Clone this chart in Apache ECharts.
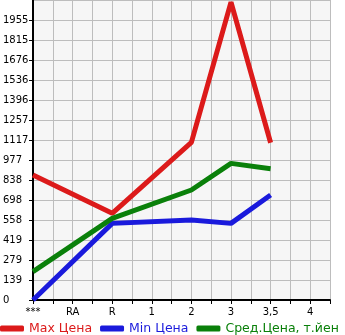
<!DOCTYPE html>
<html><head><meta charset="utf-8">
<script src="https://cdn.jsdelivr.net/npm/echarts@6/dist/echarts.min.js"></script>
<style>html,body{margin:0;padding:0;background:#fff}#c{width:345px;height:335px}</style>
</head><body><div id="c"></div>
<script>
var categories = ['***', 'RA', 'R', '1', '2', '3', '3,5', '4'];
var yTickLabels = ['0', '139', '279', '419', '558', '698', '838', '977', '1117', '1257', '1396', '1536', '1676', '1815', '1955', ''];
var maxPrice = [873, null, 605, null, 1101, 2080, 1098, null];
var minPrice = [0, null, 535, null, 559, 535, 733, null];
var avgPrice = [198, null, 570, null, 768, 954, 917, null];
var seriesNames = ['Max Цена', 'Min Цена', 'Сред.Цена, т.йен'];
var colors = ['#dc1a1a', '#1a1adc', '#0a800a'];
var step = 139.64;

function toPts(arr) {
  var out = [];
  arr.forEach(function (v, i) { if (v !== null) out.push([i, v]); });
  return out;
}
var chart = echarts.init(document.getElementById('c'), null, {renderer: 'canvas'});
var font = 'DejaVu Sans';
chart.setOption({
  animation: false,
  grid: {left: 30, right: 15, top: 0, bottom: 35, show: true, backgroundColor: '#f6f6f6', borderWidth: 0},
  xAxis: {
    type: 'value', min: 0, max: 7.5, interval: 0.5,
    axisLine: {lineStyle: {color: '#000', width: 2}},
    axisTick: {show: true, length: 4, lineStyle: {color: '#000'}},
    splitLine: {show: true, lineStyle: {color: '#bdbdbd', width: 1}},
    axisLabel: {
      fontFamily: font, fontSize: 10, color: '#000', margin: 7, showMaxLabel: true,
      formatter: function (v) { return Math.abs(v - Math.round(v)) < 1e-6 ? (categories[Math.round(v)] || '') : ''; }
    }
  },
  yAxis: {
    type: 'value', min: 0, max: step * 15, interval: step,
    axisLine: {show: true, lineStyle: {color: '#000', width: 2}},
    axisTick: {show: true, length: 4, lineStyle: {color: '#000'}},
    splitLine: {show: true, lineStyle: {color: '#bdbdbd', width: 1}},
    axisLabel: {
      fontFamily: font, fontSize: 10, color: '#000', margin: 30, showMaxLabel: false,
      align: 'left', verticalAlign: 'middle', padding: [0, 0, 10, 0],
      formatter: function (v) { return yTickLabels[Math.round(v / step)] || ''; }
    }
  },
  legend: {
    bottom: 0, left: 0, itemGap: 8, itemWidth: 24, itemHeight: 6, padding: 0,
    icon: 'roundRect',
    textStyle: {fontFamily: font, fontSize: 12.5},
    data: seriesNames.map(function (n, i) { return {name: n, textStyle: {color: colors[i]}}; })
  },
  series: [maxPrice, minPrice, avgPrice].map(function (arr, i) {
    return {
      name: seriesNames[i], type: 'line', data: toPts(arr), showSymbol: false, symbol: 'none',
      lineStyle: {color: colors[i], width: 5}, itemStyle: {color: colors[i]}
    };
  })
});
</script></body></html>
